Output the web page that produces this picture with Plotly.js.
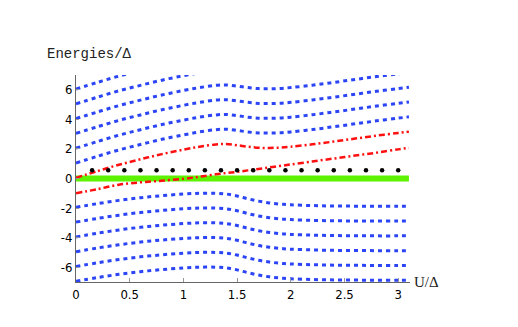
<!DOCTYPE html>
<html>
<head>
<meta charset="utf-8">
<script src="https://cdn.plot.ly/plotly-3.0.1.min.js"></script>
<style>html,body{margin:0;padding:0;background:#fff;}#chart{width:518px;height:327px;}</style>
</head>
<body>
<div id="chart"></div>
<script>
// shared U/Δ grid
var U = [0, 0.2, 0.4, 0.6, 0.8, 1.0, 1.15, 1.3, 1.4, 1.5, 1.6, 1.7, 1.8, 1.9, 2.0, 2.2, 2.4, 2.6, 2.8, 3.0, 3.1];

// upper (blue dashed) levels
var up1 = [1.05, 1.5, 1.93, 2.3, 2.65, 2.95, 3.15, 3.3, 3.33, 3.25, 3.15, 3.08, 3.07, 3.09, 3.15, 3.31, 3.5, 3.7, 3.9, 4.08, 4.17];
var up2 = [2.05, 2.5, 2.93, 3.3, 3.65, 3.95, 4.15, 4.3, 4.33, 4.25, 4.15, 4.08, 4.07, 4.09, 4.15, 4.31, 4.5, 4.7, 4.9, 5.08, 5.17];
var up3 = [3.05, 3.5, 3.93, 4.3, 4.65, 4.95, 5.15, 5.3, 5.33, 5.25, 5.15, 5.08, 5.07, 5.09, 5.15, 5.31, 5.5, 5.7, 5.9, 6.08, 6.17];
var up4 = [4.05, 4.5, 4.93, 5.3, 5.65, 5.95, 6.15, 6.3, 6.33, 6.25, 6.15, 6.08, 6.07, 6.09, 6.15, 6.31, 6.5, 6.7, 6.9, 7.08, 7.17];
var up5 = [5.05, 5.5, 5.93, 6.3, 6.65, 6.95, 7.15, 7.3, 7.35, 7.33, 7.3, 7.28, 7.27, 7.28, 7.3, 7.4, 7.5, 7.7, 7.9, 8.08, 8.17];
var up6 = [6.05, 6.5, 6.93, 7.3, 7.65, 7.95, 8.15, 8.3, 8.33, 8.25, 8.15, 8.08, 8.07, 8.09, 8.15, 8.31, 8.5, 8.7, 8.9, 9.08, 9.17];

// lower (blue dashed) levels
var lo1 = [-1.95, -1.7, -1.48, -1.3, -1.16, -1.05, -1.0, -1.0, -1.05, -1.18, -1.37, -1.53, -1.65, -1.73, -1.78, -1.83, -1.86, -1.87, -1.88, -1.88, -1.88];
var lo2 = [-2.95, -2.7, -2.48, -2.3, -2.16, -2.05, -2.0, -2.0, -2.05, -2.18, -2.37, -2.53, -2.65, -2.73, -2.78, -2.83, -2.86, -2.87, -2.88, -2.88, -2.88];
var lo3 = [-3.95, -3.7, -3.48, -3.3, -3.16, -3.05, -3.0, -3.0, -3.05, -3.18, -3.37, -3.53, -3.65, -3.73, -3.78, -3.83, -3.86, -3.87, -3.88, -3.88, -3.88];
var lo4 = [-4.95, -4.7, -4.48, -4.3, -4.16, -4.05, -4.0, -4.0, -4.05, -4.18, -4.37, -4.53, -4.65, -4.73, -4.78, -4.83, -4.86, -4.87, -4.88, -4.88, -4.88];
var lo5 = [-5.95, -5.7, -5.48, -5.3, -5.16, -5.05, -5.0, -5.0, -5.05, -5.18, -5.37, -5.53, -5.65, -5.73, -5.78, -5.83, -5.86, -5.87, -5.88, -5.88, -5.88];
var lo6 = [-6.95, -6.7, -6.48, -6.3, -6.16, -6.05, -6.0, -6.0, -6.05, -6.18, -6.37, -6.53, -6.65, -6.73, -6.78, -6.83, -6.86, -6.87, -6.88, -6.88, -6.88];

// red dash-dot levels
var red1 = [0.05, 0.5, 0.93, 1.3, 1.65, 1.95, 2.15, 2.3, 2.33, 2.25, 2.15, 2.08, 2.07, 2.09, 2.15, 2.31, 2.5, 2.7, 2.9, 3.08, 3.17];
var red2 = [-1.0, -0.72, -0.42, -0.26, -0.15, -0.02, 0.12, 0.28, 0.37, 0.45, 0.55, 0.65, 0.75, 0.85, 0.95, 1.15, 1.35, 1.55, 1.75, 1.97, 2.07];

// green zero level
var greenU = [0, 3.1];
var greenE = [0, 0];

// black dots
var dotU = [0.15, 0.3, 0.45, 0.6, 0.75, 0.9, 1.05, 1.2, 1.35, 1.5, 1.65, 1.8, 1.95, 2.1, 2.25, 2.4, 2.55, 2.7, 2.85, 3.0];
var dotE = [0.55, 0.55, 0.55, 0.55, 0.55, 0.55, 0.55, 0.55, 0.55, 0.55, 0.55, 0.55, 0.55, 0.55, 0.55, 0.55, 0.55, 0.55, 0.55, 0.55];

// ticks
var xTickVals = [0, 0.5, 1, 1.5, 2, 2.5, 3];
var xTickText = ['0', '0.5', '1', '1.5', '2', '2.5', '3'];
var yTickVals = [-6, -4, -2, 0, 2, 4, 6];
var yTickText = ['-6', '-4', '-2', '0', '2', '4', '6'];

var blue = '#2b45f5';
var traces = [];
[up1, up2, up3, up4, up5, up6, lo1, lo2, lo3, lo4, lo5, lo6].forEach(function (ys) {
  traces.push({x: U, y: ys, mode: 'lines', line: {color: blue, width: 3, dash: '4px,4px', shape: 'spline'}, hoverinfo: 'skip'});
});
traces.push({x: greenU, y: greenE, mode: 'lines', line: {color: '#5cf200', width: 6}, hoverinfo: 'skip'});
[red1, red2].forEach(function (ys) {
  traces.push({x: U, y: ys, mode: 'lines', line: {color: '#ff1010', width: 2.5, dash: '6px,3px,2px,3px', shape: 'spline'}, hoverinfo: 'skip'});
});
traces.push({x: dotU, y: dotE, mode: 'markers', marker: {color: '#000', size: 4.5}, hoverinfo: 'skip'});

var tickFont = {family: '"Liberation Sans Narrow", "DejaVu Sans Condensed", "Liberation Sans", Arial, sans-serif', size: 13, color: '#000'};

var layout = {
  width: 518, height: 327,
  margin: {l: 76, r: 108, t: 75, b: 45},
  paper_bgcolor: '#fff', plot_bgcolor: '#fff',
  showlegend: false,
  xaxis: {
    range: [0, 3.11], tickvals: xTickVals, ticktext: xTickText,
    showgrid: false, zeroline: false, showline: true, linecolor: '#666', linewidth: 1,
    ticks: 'inside', ticklen: 4, tickcolor: '#999', tickfont: tickFont
  },
  yaxis: {
    range: [-7, 7], tickvals: yTickVals, ticktext: yTickText,
    showgrid: false, zeroline: false, showline: true, linecolor: '#666', linewidth: 1,
    ticks: 'inside', ticklen: 3, tickcolor: '#999', tickfont: tickFont
  },
  annotations: [
    {xref: 'paper', yref: 'paper', x: -0.093, y: 1.10, xanchor: 'left', yanchor: 'middle', showarrow: false,
     text: 'Energies/Δ', font: {family: '"Liberation Mono", "DejaVu Sans Mono", monospace', size: 14, color: '#222'}},
    {xref: 'paper', yref: 'paper', x: 1.006, y: 0.0, xanchor: 'left', yanchor: 'middle', showarrow: false,
     text: 'U/Δ', font: {family: '"Liberation Serif", "DejaVu Serif", serif', size: 15, color: '#222'}}
  ]
};

Plotly.newPlot('chart', traces, layout, {displayModeBar: false, staticPlot: true});
</script>
</body>
</html>
